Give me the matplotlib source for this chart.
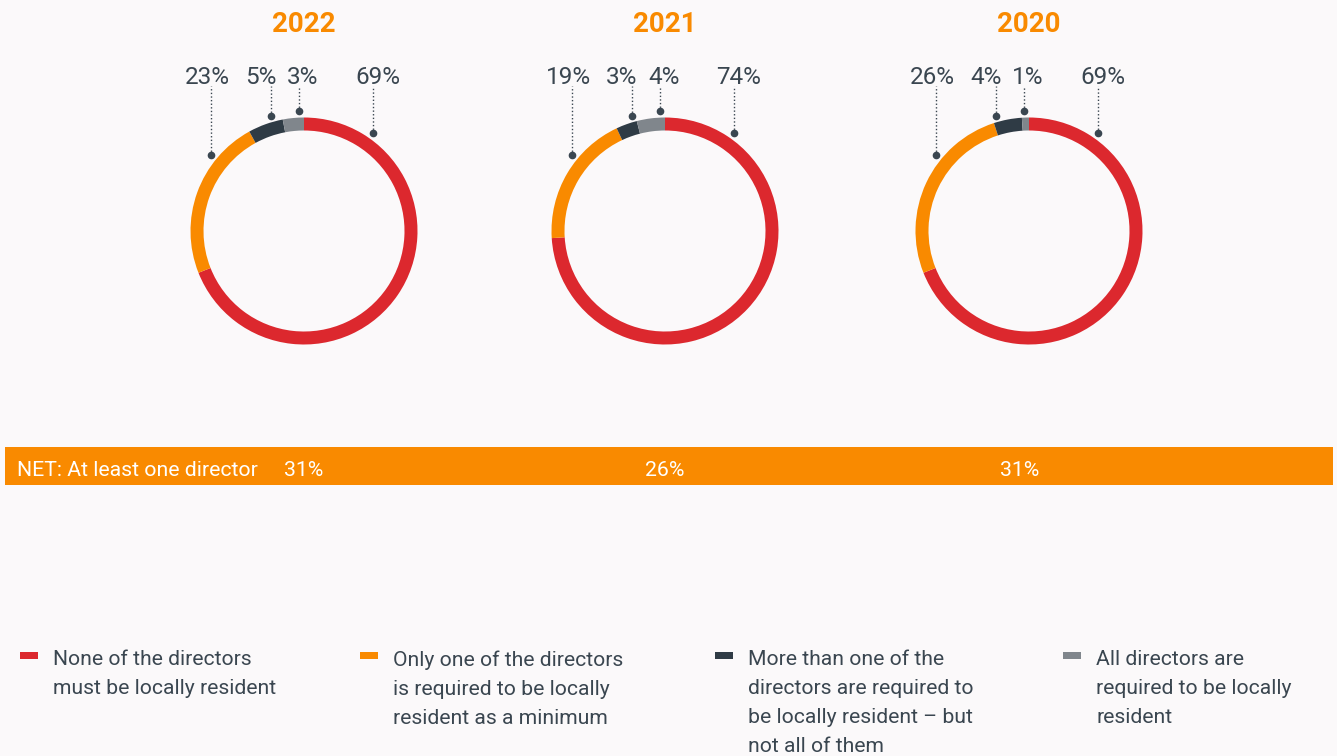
import numpy as np
import matplotlib.pyplot as plt
from matplotlib.patches import Rectangle

plt.rcParams['font.family'] = ['Roboto', 'DejaVu Sans']

# data
years = ['2022', '2021', '2020']
none_local = [69, 74, 69]
only_one = [23, 19, 26]
more_than_one = [5, 3, 4]
all_local = [3, 4, 1]
net_one = [31, 26, 31]
categories = ['None of the directors\nmust be locally resident',
              'Only one of the directors\nis required to be locally\nresident as a minimum',
              'More than one of the\ndirectors are required to\nbe locally resident \u2013 but\nnot all of them',
              'All directors are\nrequired to be locally\nresident']

colors = ['#dc282e', '#f98a00', '#2f3b45', '#80868c']
txt = '#3a4650'
bg = '#fbf9fa'

# layout (pixels)
W, H = 1337, 756
centers = [304, 665, 1029]
cy = 231
R = 113.5
ring = 13
half = 170
anchor_deg = [35, 309, 344, 357.5]   # clockwise from top, where the leader dots sit
label_dx = [5, -3, -10, 4]           # label shift from its leader line
net_x = [304, 665, 1020]
leg_x = [20, 360, 715, 1063]

fig = plt.figure(figsize=(W / 100, H / 100), dpi=100, facecolor=bg)
main = fig.add_axes([0, 0, 1, 1])
main.set_xlim(0, W)
main.set_ylim(H, 0)
main.axis('off')

for i, cx in enumerate(centers):
    vals = [none_local[i], only_one[i], more_than_one[i], all_local[i]]
    ax = fig.add_axes([(cx - half) / W, (H - cy - half) / H, 2 * half / W, 2 * half / H])
    ax.pie(vals, colors=colors, startangle=90, counterclock=False, radius=R,
           wedgeprops=dict(width=ring, linewidth=0))
    ax.set_xlim(-half, half)
    ax.set_ylim(-half, half)
    ax.set_aspect('equal')
    ax.axis('off')

    # leader dots + labels
    cum = np.cumsum([0] + vals) / sum(vals) * 360
    for k, v in enumerate(vals):
        a = min(max(anchor_deg[k], cum[k] + 0.5), cum[k + 1] - 0.5)
        t = np.radians(a)
        dx, dy = 120 * np.sin(t), 120 * np.cos(t)
        ax.plot([dx], [dy], 'o', ms=4.5, color=txt, clip_on=False)
        ax.plot([dx, dx], [dy, 145], ls=(0, (1, 1.6)), lw=1, color=txt, clip_on=False)
        ax.text(dx + label_dx[k], 153, f'{v}%', ha='center', va='center',
                fontsize=17.5, color=txt, clip_on=False)

    main.text(cx, 24, years[i], ha='center', va='center', fontsize=20,
              fontweight='bold', color='#f98a00')

# NET bar
main.add_patch(Rectangle((5, 447), 1328, 38, color='#f98a00', lw=0))
main.text(17, 470, 'NET: At least one director', ha='left', va='center',
          fontsize=15.3, color='white')
for x, v in zip(net_x, net_one):
    main.text(x, 470, f'{v}%', ha='center', va='center', fontsize=15.3, color='white')

# legend
for k, lab in enumerate(categories):
    main.add_patch(Rectangle((leg_x[k], 652), 18, 7, color=colors[k], lw=0))
    main.text(leg_x[k] + 33, 650, lab, ha='left', va='top', fontsize=15.2,
              color=txt, linespacing=1.67)

fig.savefig('out.png', dpi=100, facecolor=bg)
